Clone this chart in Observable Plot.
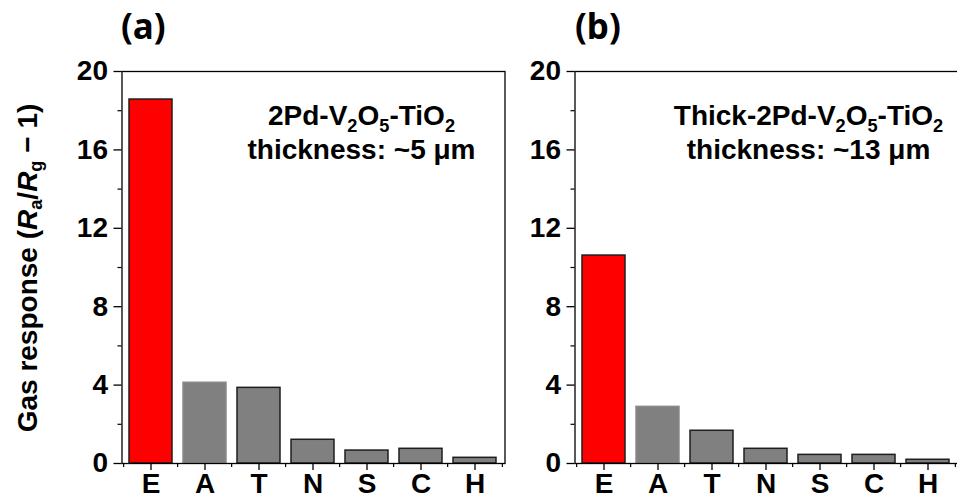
<!DOCTYPE html>
<html><head><meta charset="utf-8">
<script src="https://cdn.jsdelivr.net/npm/d3@7"></script>
<script src="https://cdn.jsdelivr.net/npm/@observablehq/plot@0.6"></script>
<style>
html,body{margin:0;padding:0;background:#fff;overflow:hidden;}
#wrap{position:relative;width:957px;height:502px;overflow:hidden;font-family:"Liberation Sans",Arial,sans-serif;color:#000;}
#wrap svg{position:absolute;left:0;top:0;}
.tag{position:absolute;font-family:"Noto Sans",sans-serif;font-weight:bold;font-size:35px;line-height:1;}
#ylab{position:absolute;left:28px;top:268px;transform:translate(-50%,-50%) rotate(-90deg);white-space:nowrap;font-weight:bold;font-size:28px;line-height:1;}
#ylab sub{font-size:65%;vertical-align:-0.25em;line-height:0;}
</style></head>
<body><div id="wrap"></div>
<script>
const gases = ["E", "A", "T", "N", "S", "C", "H"];
const responseA = [18.57, 4.12, 3.86, 1.21, 0.66, 0.75, 0.29];
const responseB = [10.61, 2.89, 1.67, 0.75, 0.44, 0.44, 0.19];
const yTicks = [0, 4, 8, 12, 16, 20];
const yMinor = [2, 6, 10, 14, 18];
const annotA = ["2Pd-V_2O_5-TiO_2", "thickness: ~5 \u03bcm"];
const annotB = ["Thick-2Pd-V_2O_5-TiO_2", "thickness: ~13 \u03bcm"];
const panelTags = ["(a)", "(b)"];
const yLabelHTML = "Gas response (<i>R</i><sub>a</sub>/<i>R</i><sub>g</sub> \u2212 1)";

const wrap = document.getElementById("wrap");

function subscriptify(svg) {
  d3.select(svg).selectAll("text").each(function () {
    const s = this.textContent;
    if (!s.includes("_")) return;
    const el = d3.select(this);
    el.text(null);
    const parts = s.split(/(_\d)/);
    let shifted = false;
    for (const p of parts) {
      if (!p) continue;
      if (p[0] === "_") {
        el.append("tspan").style("font-size", "65%").attr("dy", 7).text(p.slice(1));
        shifted = true;
      } else {
        const t = el.append("tspan").text(p);
        if (shifted) t.attr("dy", -7);
        shifted = false;
      }
    }
  });
}

function panel(values, annot, ml, mr, dxA) {
  const W = 975, H = 502;
  const data = gases.map((g, i) => ({gas: g, value: values[i]}));
  const step = (W - ml - mr) / gases.length;
  const svg = Plot.plot({
    width: W, height: H,
    marginLeft: ml, marginRight: mr, marginTop: 71, marginBottom: 39,
    style: {background: "transparent", maxWidth: "none", overflow: "visible",
            fontFamily: "'Liberation Sans', Arial, sans-serif", fontSize: "28px", fontWeight: "bold", color: "#000"},
    x: {domain: gases, paddingInner: 0.2, paddingOuter: 0.1, label: null},
    y: {domain: [0, 20], label: null},
    marks: [
      Plot.barY(data, {x: "gas", y: "value",
        fill: d => d.gas === "E" ? "#ff0000" : "#808080",
        stroke: d => d.gas === "A" ? "#8a8a8a" : "#1e1e1e", strokeWidth: 1.5}),
      Plot.frame({stroke: "#000", strokeWidth: 1.3}),
      Plot.axisY({ticks: yTicks, tickSize: 8, tickPadding: 6, strokeWidth: 1.3, fontSize: 28, fontWeight: "bold", label: null}),
      Plot.axisY({ticks: yMinor, tickSize: 4, fill: "none", strokeWidth: 1.2, label: null}),
      Plot.axisX({tickSize: 7, tickPadding: 3, strokeWidth: 1.3, fontSize: 28, fontWeight: "bold", label: null}),
      Plot.axisX({tickSize: 4, fill: "none", strokeWidth: 1.2, dx: -step / 2, label: null}),
      Plot.axisX({ticks: [gases[gases.length - 1]], tickSize: 4, fill: "none", strokeWidth: 1.2, dx: step / 2, label: null}),
      Plot.text([annot[0]], {text: d => d, frameAnchor: "top", dx: dxA, dy: 34, fontSize: 28, fontWeight: "bold", textAnchor: "middle"}),
      Plot.text([annot[1]], {text: d => d, frameAnchor: "top", dx: dxA, dy: 68, fontSize: 28, fontWeight: "bold", textAnchor: "middle"})
    ]
  });
  subscriptify(svg);
  wrap.appendChild(svg);
}

panel(responseA, annotA, 121.5, 975 - 504.5, 48);
panel(responseB, annotB, 574.5, 975 - 957.5, 42);

const yl = document.createElement("div");
yl.id = "ylab";
yl.innerHTML = yLabelHTML;
wrap.appendChild(yl);

[[panelTags[0], 121], [panelTags[1], 575]].forEach(([t, x]) => {
  const d = document.createElement("div");
  d.className = "tag";
  d.style.left = x + "px";
  d.style.top = "8px";
  d.textContent = t;
  wrap.appendChild(d);
});
</script>
</body></html>
